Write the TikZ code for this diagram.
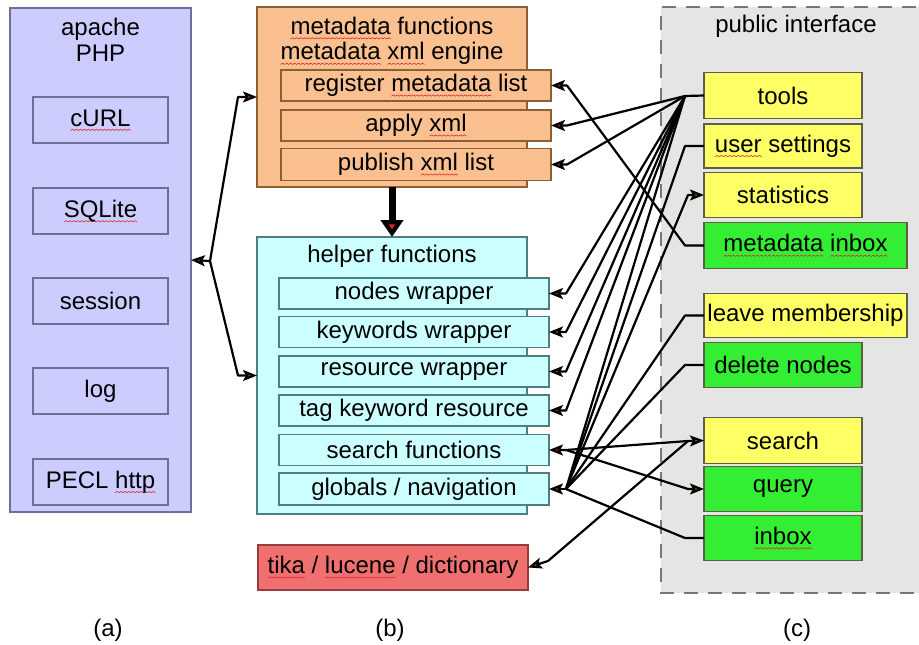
\documentclass[tikz,border=0pt]{standalone}
\usepackage{fontspec}
\setmainfont{Liberation Sans}
\usetikzlibrary{arrows.meta,calc}
\definecolor{lav}{RGB}{204,204,255}
\definecolor{lavb}{RGB}{110,110,150}
\definecolor{org}{RGB}{250,192,143}
\definecolor{orgb}{RGB}{140,95,55}
\definecolor{cya}{RGB}{204,255,255}
\definecolor{cyab}{RGB}{80,125,125}
\definecolor{tik}{RGB}{240,112,112}
\definecolor{tikb}{RGB}{150,60,60}
\definecolor{yel}{RGB}{255,255,102}
\definecolor{grn}{RGB}{51,238,51}
\definecolor{rb}{RGB}{95,95,70}
\definecolor{pan}{RGB}{229,229,229}
\definecolor{panb}{RGB}{120,120,120}
\definecolor{sqred}{RGB}{220,40,40}
\newsavebox\sqbox
\newcommand\sqg[1]{\leavevmode\setbox0\hbox{#1}\rlap{\lower4.5pt\hbox to \wd0{\xleaders\copy\sqbox\hfil}}#1}
\tikzset{
  box/.style={draw, line width=1.1pt, inner sep=0pt, outer sep=0pt, font=\fontsize{24}{28}\selectfont},
  lavbox/.style={box, fill=lav, draw=lavb},
  orgbox/.style={box, fill=org, draw=orgb},
  cyabox/.style={box, fill=cya, draw=cyab},
  yelbox/.style={box, fill=yel, draw=rb},
  grnbox/.style={box, fill=grn, draw=rb},
  lbl/.style={inner sep=0pt, font=\fontsize{24}{25.5}\selectfont, align=center},
  conn/.style={line width=2.2pt, line join=round},
  arr/.style={conn, -{Stealth[length=14pt,width=11pt,inset=3pt]}},
  arr2/.style={conn, {Stealth[length=14pt,width=11pt,inset=3pt]}-{Stealth[length=14pt,width=11pt,inset=3pt]}},
}
\begin{document}
\begin{tikzpicture}[x=1pt,y=-1pt]
\global\setbox\sqbox\hbox{\pgfinterruptpicture\pgfpicture
  \pgfsetlinewidth{0.6pt}\pgfsetstrokecolor{sqred}%
  \pgfpathmoveto{\pgfpoint{0pt}{0pt}}\pgfpathlineto{\pgfpoint{2pt}{1.3pt}}\pgfpathlineto{\pgfpoint{4pt}{0pt}}%
  \pgfusepath{stroke}%
  \pgfresetboundingbox
  \pgfpathrectanglecorners{\pgfpoint{0pt}{0pt}}{\pgfpoint{4pt}{1pt}}\pgfusepath{use as bounding box}%
  \endpgfpicture\endpgfinterruptpicture}%
\useasboundingbox (0,0) rectangle (919,645);
\clip (0,0) rectangle (919,645);
% (a)
\node[lavbox, minimum width=181pt, minimum height=504pt] (apache) at (100.5,260) {};
\node[lbl] (apachelbl) at (100.5,40) {apache\\PHP};
\node[lavbox, minimum width=135pt, minimum height=46pt] (curl) at (100.5,120) {\sqg{cURL}};
\node[lavbox, minimum width=135pt, minimum height=46pt] (sqlite) at (100.5,211) {\sqg{SQLite}};
\node[lavbox, minimum width=135pt, minimum height=46pt] (session) at (100.5,301) {session};
\node[lavbox, minimum width=135pt, minimum height=46pt] (log) at (100.5,391) {log};
\node[lavbox, minimum width=135pt, minimum height=46pt] (pecl) at (100.5,482) {PECL \sqg{http}};
% (b)
\node[orgbox, minimum width=270pt, minimum height=180pt] (meta) at (392,97) {};
\node[lbl] (metalbl) at (392,41) {\sqg{metadata} functions\\\sqg{metadata} \sqg{xml} engine};
\node[orgbox, minimum width=270pt, minimum height=31pt] (reg) at (416,85.5) {register \sqg{metadata} list};
\node[orgbox, minimum width=270pt, minimum height=31pt] (apply) at (416,125.5) {apply \sqg{xml}};
\node[orgbox, minimum width=270pt, minimum height=32pt] (publish) at (416,164.5) {publish \sqg{xml} list};
\node[cyabox, minimum width=270pt, minimum height=277pt] (helper) at (392,375.5) {};
\node[lbl] (helperlbl) at (392,256) {helper functions};
\node[cyabox, minimum width=270pt, minimum height=31pt] (nodesw) at (414,293.5) {nodes wrapper};
\node[cyabox, minimum width=270pt, minimum height=31pt] (keyw) at (414,332) {keywords wrapper};
\node[cyabox, minimum width=270pt, minimum height=31pt] (resw) at (414,371.5) {resource wrapper};
\node[cyabox, minimum width=270pt, minimum height=31pt] (tagk) at (414,410.5) {tag keyword resource};
\node[cyabox, minimum width=270pt, minimum height=31pt] (sfunc) at (414,450) {search functions};
\node[cyabox, minimum width=270pt, minimum height=32pt] (glob) at (414,489) {globals / navigation};
\node[box, fill=tik, draw=tikb, minimum width=270pt, minimum height=45pt] (tika) at (393,567.5) {\sqg{tika} / \sqg{lucene} / dictionary};
\draw[line width=7pt, -{Triangle[length=17pt,width=22pt]}] (meta.south) -- (helper.north);
% (c)
\fill[pan] (661,7) rectangle (940,593);
\draw[panb, dash pattern=on 14pt off 10pt, line width=1.3pt] (940,7) -- (661,7) -- (661,593) -- (940,593);
\node[lbl] (publbl) at (796,26) {public interface};
\node[yelbox, minimum width=158pt, minimum height=45.6pt] (tools) at (783,95.5) {tools};
\node[yelbox, minimum width=158pt, minimum height=44pt] (user) at (783,146) {\sqg{user} settings};
\node[yelbox, minimum width=158pt, minimum height=44.6pt] (stats) at (783,195) {statistics};
\node[grnbox, minimum width=203pt, minimum height=45.6pt] (minbox) at (805.5,245.5) {\sqg{metadata} \sqg{inbox}};
\node[yelbox, minimum width=203pt, minimum height=44.4pt] (leave) at (805.5,315.5) {leave membership};
\node[grnbox, minimum width=158pt, minimum height=44.6pt] (del) at (783,365) {delete nodes};
\node[yelbox, minimum width=158pt, minimum height=45.6pt] (search) at (783,440.5) {search};
\node[grnbox, minimum width=158pt, minimum height=45pt] (query) at (783,489) {query};
\node[grnbox, minimum width=158pt, minimum height=45.6pt] (inbox) at (783,538) {\sqg{inbox}};
% labels
\node[lbl] (la) at (108,630) {(a)};
\node[lbl] (lb) at (390,630) {(b)};
\node[lbl] (lc) at (797,630) {(c)};
% coordinates
\coordinate (H) at (210,261);
\coordinate (lM) at (238,97);
\coordinate (lH) at (238,375.5);
\coordinate (hT) at (685,96);
\coordinate (hU) at (685,146);
\coordinate (hS) at (688,195);
\coordinate (hM) at (685,245.5);
\coordinate (hL) at (685,315.5);
\coordinate (hD) at (685,365);
\coordinate (hSe) at (688,441);
\coordinate (hQ) at (688,489);
\coordinate (hI) at (685,538);
\coordinate (aReg) at (567,85.5);
\coordinate (aApply) at (567,125.5);
\coordinate (aPub) at (567,164.5);
\coordinate (aNodes) at (566,293.5);
\coordinate (aKey) at (566,332);
\coordinate (aRes) at (566,371.5);
\coordinate (aTag) at (566,410.5);
\coordinate (aSF) at (566,450);
\coordinate (G) at (566,489);
\coordinate (aTika) at (548,561);
% left connectors
\draw[arr] (H) -- (apache.east);
\draw[arr] (H) -- (lM) -- (meta.west);
\draw[arr] (H) -- (lH) -- (helper.west);
% tools hub
\draw[conn] (tools.west) -- (hT);
\draw[arr] (hT) -- (aApply) -- (apply.east);
\draw[arr] (hT) -- (aPub) -- (publish.east);
\draw[arr] (hT) -- (aNodes) -- (nodesw.east);
\draw[arr] (hT) -- (aKey) -- (keyw.east);
\draw[arr] (hT) -- (aRes) -- (resw.east);
\draw[arr] (hT) -- (aTag) -- (tagk.east);
\draw[conn] (hT) -- (G);
\draw[arr] (G) -- (glob.east);
% globals hub
\draw[conn] (user.west) -- (hU) -- (G);
\draw[arr] (G) -- (hS) -- (stats.west);
\draw[conn] (leave.west) -- (hL) -- (G);
\draw[conn] (del.west) -- (hD) -- (G);
\draw[conn] (inbox.west) -- (hI) -- (G);
% metadata inbox
\draw[arr] (minbox.west) -- (hM) -- (aReg) -- (reg.east);
% search
\draw[arr2] (sfunc.east) -- (aSF) -- (hSe) -- (search.west);
\draw[arr] (aSF) -- (hQ) -- (query.west);
\draw[arr] (hSe) -- (aTika) -- (tika.east);
\end{tikzpicture}
\end{document}
